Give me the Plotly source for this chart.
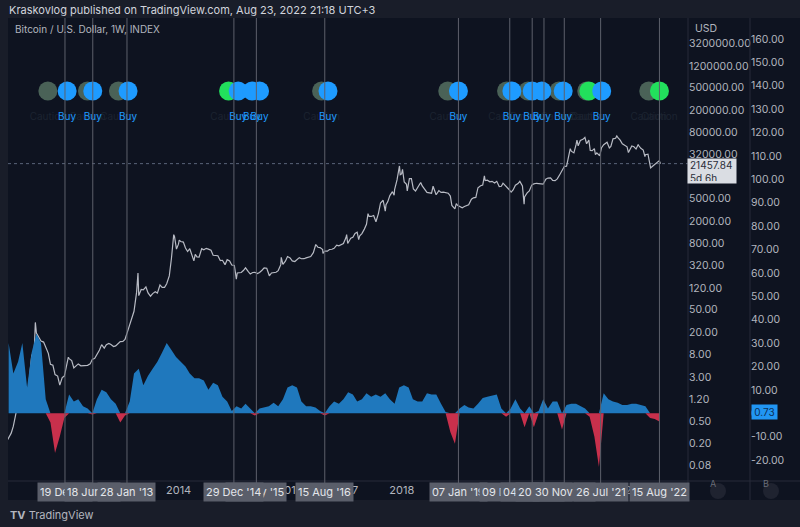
import math
import pandas as pd
import plotly.graph_objects as go

# BTCUSD index (weekly chart, log scale)
price_dates = [
    '2010-12-01', '2010-12-15',
    '2011-01-01', '2011-01-15', '2011-02-01', '2011-02-15', '2011-03-01', '2011-03-15', '2011-04-01', '2011-04-15',
    '2011-05-01', '2011-05-15', '2011-06-01', '2011-06-08', '2011-06-15', '2011-07-01', '2011-07-15', '2011-08-01',
    '2011-08-15', '2011-09-01', '2011-09-15', '2011-10-01', '2011-10-15', '2011-11-01', '2011-11-15', '2011-12-01',
    '2011-12-15',
    '2012-01-01', '2012-01-10', '2012-01-15', '2012-02-01', '2012-02-15', '2012-03-01', '2012-03-15', '2012-04-01',
    '2012-04-15', '2012-05-01', '2012-05-15', '2012-06-01', '2012-06-15', '2012-07-01', '2012-07-15', '2012-08-01',
    '2012-08-15', '2012-09-01', '2012-09-15', '2012-10-01', '2012-10-15', '2012-11-01', '2012-11-15', '2012-12-01',
    '2012-12-15',
    '2013-01-01', '2013-01-15', '2013-02-01', '2013-02-15', '2013-03-01', '2013-03-15', '2013-04-01', '2013-04-10',
    '2013-04-15', '2013-05-01', '2013-05-15', '2013-06-01', '2013-06-15', '2013-07-01', '2013-07-15', '2013-08-01',
    '2013-08-15', '2013-09-01', '2013-09-15', '2013-10-01', '2013-10-15', '2013-11-01', '2013-11-15', '2013-11-30',
    '2013-12-05', '2013-12-18', '2013-12-31',
    '2014-01-05', '2014-01-15', '2014-02-01', '2014-02-15', '2014-03-01', '2014-03-15', '2014-04-01', '2014-04-11',
    '2014-04-20', '2014-05-01', '2014-05-15', '2014-06-01', '2014-06-15', '2014-07-01', '2014-07-15', '2014-08-01',
    '2014-08-15', '2014-09-01', '2014-09-15', '2014-10-01', '2014-10-15', '2014-11-01', '2014-11-15', '2014-12-01',
    '2014-12-15',
    '2015-01-01', '2015-01-14', '2015-01-20', '2015-02-01', '2015-02-15', '2015-03-01', '2015-03-15', '2015-04-01',
    '2015-04-15', '2015-05-01', '2015-05-15', '2015-06-01', '2015-06-15', '2015-07-01', '2015-07-15', '2015-08-01',
    '2015-08-18', '2015-09-01', '2015-09-15', '2015-10-01', '2015-10-15', '2015-11-01', '2015-11-04', '2015-11-15',
    '2015-12-01', '2015-12-15',
    '2016-01-01', '2016-01-15', '2016-02-01', '2016-02-15', '2016-03-01', '2016-03-15', '2016-04-01', '2016-04-15',
    '2016-05-01', '2016-05-15', '2016-06-01', '2016-06-17', '2016-07-01', '2016-07-15', '2016-08-01', '2016-08-03',
    '2016-08-15', '2016-09-01', '2016-09-15', '2016-10-01', '2016-10-15', '2016-11-01', '2016-11-15', '2016-12-01',
    '2016-12-15',
    '2017-01-01', '2017-01-05', '2017-01-12', '2017-02-01', '2017-02-15', '2017-03-01', '2017-03-15', '2017-03-25',
    '2017-04-01', '2017-04-15', '2017-05-01', '2017-05-15', '2017-05-25', '2017-06-01', '2017-06-15', '2017-07-01',
    '2017-07-16', '2017-08-01', '2017-08-15', '2017-09-01', '2017-09-15', '2017-09-20', '2017-10-01', '2017-10-15',
    '2017-11-01', '2017-11-12', '2017-11-15', '2017-12-01', '2017-12-17', '2017-12-22', '2017-12-31',
    '2018-01-06', '2018-01-17', '2018-02-01', '2018-02-06', '2018-02-20', '2018-03-05', '2018-03-18', '2018-04-01',
    '2018-04-15', '2018-05-05', '2018-05-15', '2018-06-01', '2018-06-15', '2018-07-01', '2018-07-15', '2018-07-25',
    '2018-08-14', '2018-09-01', '2018-09-15', '2018-10-01', '2018-10-15', '2018-11-01', '2018-11-15', '2018-11-25',
    '2018-12-15', '2018-12-24',
    '2019-01-01', '2019-01-15', '2019-02-01', '2019-02-15', '2019-03-01', '2019-03-15', '2019-04-02', '2019-04-15',
    '2019-05-01', '2019-05-15', '2019-06-01', '2019-06-15', '2019-06-26', '2019-07-01', '2019-07-15', '2019-08-01',
    '2019-08-15', '2019-09-01', '2019-09-15', '2019-10-01', '2019-10-15', '2019-10-26', '2019-11-01', '2019-11-15',
    '2019-12-01', '2019-12-18', '2019-12-31',
    '2020-01-15', '2020-02-01', '2020-02-13', '2020-03-01', '2020-03-12', '2020-03-15', '2020-04-01', '2020-04-15',
    '2020-05-01', '2020-05-15', '2020-06-01', '2020-06-15', '2020-07-01', '2020-07-15', '2020-08-01', '2020-08-15',
    '2020-09-01', '2020-09-15', '2020-10-01', '2020-10-15', '2020-11-01', '2020-11-15', '2020-12-01', '2020-12-15',
    '2020-12-31',
    '2021-01-08', '2021-01-15', '2021-02-01', '2021-02-15', '2021-02-21', '2021-03-01', '2021-03-15', '2021-04-01',
    '2021-04-14', '2021-04-25', '2021-05-10', '2021-05-19', '2021-06-01', '2021-06-15', '2021-06-22', '2021-07-01',
    '2021-07-20', '2021-08-01', '2021-08-15', '2021-09-06', '2021-09-21', '2021-10-01', '2021-10-15', '2021-11-01',
    '2021-11-09', '2021-11-15', '2021-12-01', '2021-12-15',
    '2022-01-01', '2022-01-15', '2022-01-24', '2022-02-01', '2022-02-15', '2022-03-01', '2022-03-15', '2022-03-29',
    '2022-04-01', '2022-04-15', '2022-05-01', '2022-05-12', '2022-05-15', '2022-06-01', '2022-06-18', '2022-07-01',
    '2022-07-15', '2022-08-01', '2022-08-14', '2022-08-22',
]
price_values = [
    0.21, 0.25,
    0.30, 0.40, 0.72, 1.05, 0.90, 0.85, 0.78, 1.10,
    3.2, 7.4, 9.6, 29.6, 19.0, 15.4, 13.7, 13.1,
    10.9, 8.2, 5.2, 5.0, 3.4, 3.2, 2.2, 3.0,
    3.2,
    5.3, 7.0, 6.6, 6.1, 4.5, 4.9, 5.3, 4.9,
    4.9, 5.0, 5.0, 5.3, 6.4, 6.7, 7.8, 9.4,
    11.8, 10.2, 11.8, 12.4, 11.8, 10.9, 11.2, 12.6,
    13.4,
    13.5, 14.6, 20.4, 27.1, 34.5, 47.0, 104, 230,
    90, 116, 114, 129, 101, 88, 98, 106,
    100, 140, 127, 127, 147, 204, 420, 1130,
    1050, 620, 760,
    900, 850, 830, 650, 560, 630, 450, 380,
    500, 450, 445, 630, 600, 640, 620, 590,
    480, 480, 470, 386, 390, 325, 400, 380,
    320,
    315, 178, 230, 230, 235, 255, 285, 245,
    220, 235, 237, 225, 235, 258, 285, 280,
    205, 230, 230, 237, 254, 325, 440, 330,
    375, 455,
    430, 380, 370, 405, 435, 415, 416, 430,
    450, 455, 535, 750, 670, 660, 610, 520,
    570, 570, 610, 615, 640, 730, 710, 750,
    780,
    1000, 1130, 780, 970, 1010, 1190, 1250, 920,
    1080, 1180, 1420, 1730, 2700, 2400, 2400, 2500,
    1930, 2700, 4200, 4700, 3000, 3900, 4400, 5700,
    6700, 5800, 7300, 10900, 19500, 13500, 14000,
    17000, 10000, 9100, 6900, 11500, 11500, 7500, 6900,
    8000, 9800, 8500, 7500, 6500, 6400, 6300, 8400,
    5900, 7000, 6500, 6600, 6500, 6300, 5600, 3800,
    3300, 4100,
    3800, 3600, 3450, 3620, 3820, 3900, 4900, 5200,
    5300, 7900, 8600, 8800, 12900, 10600, 10800, 10100,
    10300, 9600, 10300, 8300, 8400, 9500, 9200, 8500,
    7500, 6600, 7200,
    8800, 9400, 10300, 8500, 4000, 5400, 6400, 6900,
    8800, 9300, 9500, 9400, 9100, 9200, 11300, 11800,
    11900, 10700, 10600, 11400, 13700, 16000, 19200, 19300,
    29000,
    40000, 36000, 33500, 47000, 57000, 45000, 56000, 58800,
    63500, 49000, 57000, 37000, 36700, 40000, 31000, 33500,
    29800, 41500, 47000, 52000, 41000, 43800, 60000, 61300,
    67500, 64000, 57000, 48900,
    46300, 43100, 34000, 38500, 44500, 43200, 39300, 47500,
    45500, 40500, 37700, 28800, 31000, 31800, 18000, 19300,
    20800, 23300, 24300, 21457.84,
]
assert len(price_dates) == len(price_values)

# oscillator histogram, one value per month (Dec 2010 .. Aug 2022)
osc_months = pd.date_range('2010-12-01', '2022-08-01', freq='MS') + pd.Timedelta(days=14)
osc_values = [
    30, 17, 22, 30, 11, 26, 34, 30, 6, -4, -17, -10, -2,
    8, 5, 6, 3, 2, -0.5, 6, 10, 9, 6, 4, -4,
    -1, 5, 17, 19, 12, 16, 19, 22, 26, 30, 27, 24,
    22, 20, 17, 15, 15, 14, 10, 13, 12, 7, 5, 1,
    3, 2, 4, 2, -1, 2, 2.5, 3, 4.5, 3, 6, 11,
    12, 11, 5, 3, 3, 2.5, 1, -1, 3, 5, 4, 6,
    9, 8, 5, 6, 8.5, 7, 8, 7, 8.5, 6, 4, 11,
    12, 11, 6, 5, 5, 8.5, 8, 8, 4, 0.5, -8, -13,
    2, 3.5, 2.5, 2, 4, 6.5, 7, 7.5, 8, 2, -1.5, 2,
    6, 2, -6, 3, -6, 1, 6, 2, 5, 5, -7, 3.5,
    4, 4, 3, 2, -1.5, -10, -23, 8.5, 6, 5, 4.5, 3.5,
    3.5, 4, 4, 3.5, 3, -2, -2.5, -3.5,
]
assert len(osc_months) == len(osc_values)
osc_last = 0.73

# highlighted dates on the time axis (vertical lines); '15 label drawn under '14 one
marker_dates = ['2011-12-19', '2012-06-18', '2013-01-28', '2015-05-25', '2014-12-29', '2016-08-15',
                '2019-01-07', '2019-12-09', '2020-05-04', '2020-07-20', '2020-11-30', '2021-07-26',
                '2022-08-15']

# signal circles
buy_dates = ['2012-01-02', '2012-06-18', '2013-02-04', '2015-01-26', '2015-04-27', '2015-06-15',
             '2016-09-05', '2019-01-07', '2019-12-23', '2020-05-04', '2020-07-06', '2020-11-23',
             '2021-08-02']
green_dates = ['2014-11-24', '2021-05-10', '2022-08-15']
gray_dates = ['2011-08-29', '2012-05-14', '2012-12-03', '2016-07-25', '2018-10-29', '2019-11-18',
              '2020-04-06', '2020-10-26', '2021-04-26', '2022-06-06']

price_ticks = [0.08, 0.2, 0.5, 1.2, 3, 8, 20, 50, 120, 320, 800, 2000, 5000, 12000, 32000,
               80000, 200000, 500000, 1200000, 3200000]
osc_ticks = list(range(-20, 170, 10))
year_ticks = [str(y) for y in range(2011, 2023)]

X_START, X_END = '2010-12-11', '2023-02-18'
FONT = 'Inter, Roboto, sans-serif'
BG = '#0e1320'
PANEL = '#191d29'
SEP = '#262b38'
XDOM = (688 - 8) / 792
Y2POS = (750 - 8) / 792
SIGNAL_ROW = 0.842
SIGNAL_TEXT_ROW = 0.785

fig = go.Figure()

# histogram drawn as filled areas, blue above zero and red below
fig.add_trace(go.Scatter(
    x=osc_months, y=[max(v, 0) for v in osc_values], yaxis='y2', mode='lines',
    line=dict(width=0), fill='tozeroy', fillcolor='#1f78bd', hoverinfo='skip'))
fig.add_trace(go.Scatter(
    x=osc_months, y=[min(v, 0) for v in osc_values], yaxis='y2', mode='lines',
    line=dict(width=0), fill='tozeroy', fillcolor='#c8304c', hoverinfo='skip'))

fig.add_trace(go.Scatter(
    x=[X_START, X_END], y=[price_values[-1]] * 2, mode='lines',
    line=dict(color='#5a6478', width=1, dash='dot'), hoverinfo='skip'))

fig.add_trace(go.Scatter(
    x=price_dates, y=price_values, mode='lines',
    line=dict(color='#b8bbc4', width=1.2), hoverinfo='skip'))

# signal markers: gray, green, then blue on top
for dates, color, label, tcolor in [
    (gray_dates, '#4a6257', 'Caution', '#1c2330'),
    (green_dates, '#22e05c', 'Caution', '#1c2330'),
    (buy_dates, '#1e9bff', 'Buy', '#1e9bff'),
]:
    fig.add_trace(go.Scatter(
        x=dates, y=[SIGNAL_ROW] * len(dates), yaxis='y3', mode='markers',
        marker=dict(size=19, color=color, line_width=0), hoverinfo='skip'))
    fig.add_trace(go.Scatter(
        x=dates, y=[SIGNAL_TEXT_ROW] * len(dates), yaxis='y3', mode='text',
        text=[label] * len(dates), textfont=dict(family=FONT, size=10, color=tcolor),
        hoverinfo='skip'))

shapes = [
    dict(type='rect', xref='paper', yref='paper', x0=0, x1=1, y0=-20 / 462, y1=1,
         fillcolor=BG, line_width=0, layer='below'),
    dict(type='line', xref='paper', yref='paper', x0=XDOM, x1=XDOM, y0=-20 / 462, y1=1,
         line=dict(color=SEP, width=1)),
    dict(type='line', xref='paper', yref='paper', x0=Y2POS, x1=Y2POS, y0=-20 / 462, y1=1,
         line=dict(color=SEP, width=1)),
    dict(type='line', xref='paper', yref='paper', x0=0, x1=1, y0=-1 / 462, y1=-1 / 462,
         line=dict(color=SEP, width=1)),
]
for d in marker_dates:
    shapes.append(dict(type='line', xref='x', yref='paper', x0=d, x1=d, y0=-4 / 462, y1=1,
                       line=dict(color='#5d606b', width=1)))
for cx in (718, 771):
    shapes.append(dict(type='circle', xref='paper', yref='paper',
                       x0=(cx - 8 - 8) / 792, x1=(cx - 8 + 8) / 792,
                       y0=(480 - 499) / 462, y1=(480 - 483) / 462,
                       fillcolor='#1f2330', line_width=0))

annotations = [
    dict(text='Kraskovlog published on TradingView.com, Aug 23, 2022 21:18 UTC+3',
         xref='paper', yref='paper', x=-1 / 792, y=(480 - 10) / 462, xanchor='left', yanchor='middle',
         showarrow=False, font=dict(family=FONT, size=11, color='#d1d4dc')),
    dict(text='Bitcoin / U.S. Dollar, 1W, INDEX',
         xref='paper', yref='paper', x=5 / 792, y=(480 - 29) / 462, xanchor='left', yanchor='middle',
         showarrow=False, font=dict(family=FONT, size=10, color='#b2b5be')),
    dict(text='USD', xref='paper', yref='paper', x=XDOM + 5 / 792, y=(480 - 28) / 462,
         xanchor='left', yanchor='middle', showarrow=False,
         font=dict(family=FONT, size=10.5, color='#b2b5be')),
    dict(text='<b>TV</b> TradingView', xref='paper', yref='paper', x=0, y=(480 - 515) / 462,
         xanchor='left', yanchor='middle', showarrow=False,
         font=dict(family=FONT, size=11, color='#b2b5be')),
]
for d in marker_dates:
    annotations.append(dict(
        text=pd.Timestamp(d).strftime("%d %b '%y"), xref='x', yref='paper', x=d, y=(480 - 491.5) / 462,
        xanchor='center', yanchor='middle', showarrow=False, bgcolor='#5a5e6a',
        height=14, borderpad=2, font=dict(family=FONT, size=11, color='#e4e6eb')))
for cx, letter in ((718, 'A'), (771, 'B')):
    annotations.append(dict(text=letter, xref='paper', yref='paper', x=(cx - 8) / 792,
                            y=(480 - 491) / 462, showarrow=False,
                            font=dict(family=FONT, size=9, color='#6a6d78')))
annotations.append(dict(
    text=f'{price_values[-1]:.2f}<br>5d 6h', xref='paper', yref='y', x=XDOM - 1 / 792,
    y=math.log10(price_values[-1]), yshift=6, xanchor='left', yanchor='top', align='left',
    bgcolor='#dadde3', width=44, height=20, borderpad=2, showarrow=False,
    font=dict(family=FONT, size=10, color='#2a2e39')))
annotations.append(dict(
    text=f'{osc_last:.2f}', xref='paper', yref='y2', x=Y2POS + 1 / 792, y=osc_last,
    xanchor='left', yanchor='middle', bgcolor='#2196f3', width=23, borderpad=1, showarrow=False,
    font=dict(family=FONT, size=10, color='#0d2f57')))

axis_font = dict(family=FONT, size=10.5, color='#b2b5be')
fig.update_layout(
    width=800, height=527,
    margin=dict(l=8, r=0, t=18, b=47),
    paper_bgcolor=PANEL, plot_bgcolor=BG,
    showlegend=False,
    xaxis=dict(type='date', domain=[0, XDOM], range=[X_START, X_END],
               tickvals=[f'{y}-01-01' for y in year_ticks], ticktext=year_ticks,
               showgrid=False, zeroline=False, showline=False, ticks='',
               tickfont=dict(family=FONT, size=11, color='#b2b5be'), ticklabelstandoff=2),
    yaxis=dict(type='log', range=[-1.367, 6.955], side='right', anchor='x',
               tickvals=price_ticks, ticktext=[f'{v:.2f}' for v in price_ticks],
               showgrid=False, zeroline=False, showline=False, ticks='', tickfont=axis_font),
    yaxis2=dict(range=[-28.55, 168.98], overlaying='y', side='right', anchor='free', position=Y2POS,
                tickvals=osc_ticks, ticktext=[f'{v:.2f}' for v in osc_ticks],
                showgrid=False, zeroline=False, showline=False, ticks='', tickfont=axis_font),
    yaxis3=dict(range=[0, 1], overlaying='y', anchor='x', visible=False),
    shapes=shapes,
    annotations=annotations,
)

# the page body has a default 8px margin; drop it so the figure sits at the window corner
fig.write_html('out.html', config={'displayModeBar': False},
               post_script="document.body.style.margin='0';")
